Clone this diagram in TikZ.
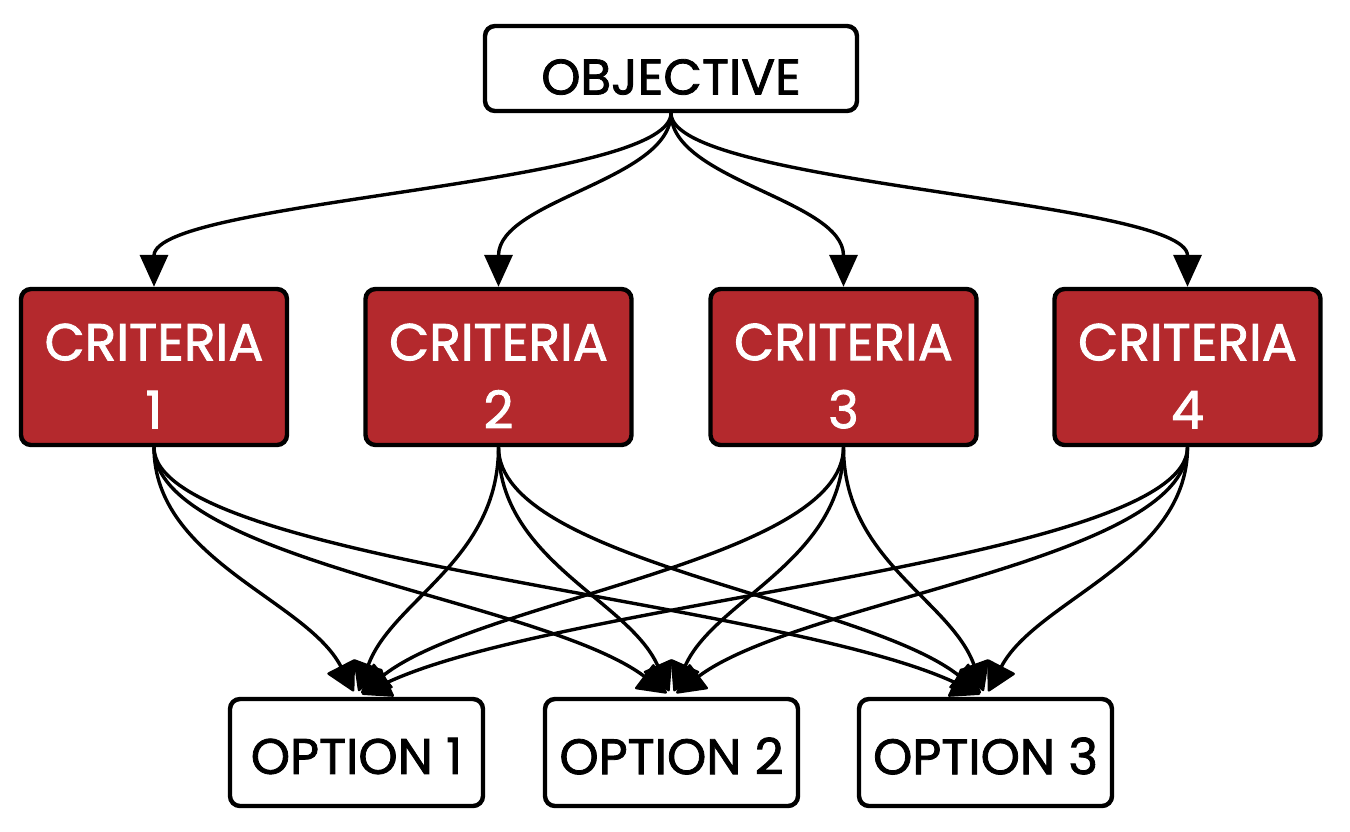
\documentclass[tikz,border=0pt]{standalone}
\usepackage{fontspec}
\setmainfont{Poppins}[FakeBold=1.6]
\usetikzlibrary{arrows.meta}
\definecolor{critred}{HTML}{B4292D}
\begin{document}
\begin{tikzpicture}[x=0.5pt,y=-0.5pt,
  box/.style={draw=black, line width=2.2pt, rounded corners=5pt, inner sep=0pt},
  objbox/.style={box, fill=white, minimum width=186pt, minimum height=42.5pt},
  critbox/.style={box, fill=critred, minimum width=133pt, minimum height=78pt},
  optbox/.style={box, fill=white, minimum width=126.5pt, minimum height=53.5pt},
  lbl/.style={inner sep=0pt, font=\fontsize{25}{34}\selectfont, align=center},
  critlbl/.style={lbl, text=white, font=\fontsize{26}{34}\selectfont},
  conn/.style={draw=black, line width=1.7pt, -{Triangle[length=16pt,width=14pt]}},
  conn2/.style={draw=black, line width=1.7pt,
    -{Triangle[length=15pt,width=16pt,line width=1.2pt,fill=black,line join=round]}, shorten >=3pt}
]
\useasboundingbox (0,0) rectangle (1350,831);
% boxes
\node[objbox] (obj) at (671,68.5) {};
\node[critbox] (c1) at (154,367) {};
\node[critbox] (c2) at (498.5,367) {};
\node[critbox] (c3) at (843.5,367) {};
\node[critbox] (c4) at (1187.5,367) {};
\node[optbox] (o1) at (356.5,752.5) {};
\node[optbox] (o2) at (671.5,752.5) {};
\node[optbox] (o3) at (985.5,752.5) {};
% labels
\node[lbl] (objt) at (671,77) {OBJECTIVE};
\node[critlbl] (c1t) at (154,376) {CRITERIA\\1};
\node[critlbl] (c2t) at (498.5,376) {CRITERIA\\2};
\node[critlbl] (c3t) at (843.5,376) {CRITERIA\\3};
\node[critlbl] (c4t) at (1187.5,376) {CRITERIA\\4};
\node[lbl] (o1t) at (356.5,756) {OPTION 1};
\node[lbl] (o2t) at (671.5,756) {OPTION 2};
\node[lbl] (o3t) at (985.5,756) {OPTION 3};
% objective to criteria
\draw[conn] (obj.south) .. controls +(0,72) and +(0,-87) .. (c1.north);
\draw[conn] (obj.south) .. controls +(0,67) and +(0,-87) .. (c2.north);
\draw[conn] (obj.south) .. controls +(0,67) and +(0,-87) .. (c3.north);
\draw[conn] (obj.south) .. controls +(0,72) and +(0,-87) .. (c4.north);
% criteria to options
\draw[conn2] (c1.south) .. controls +(0,113) and +(-50,-97) .. (o1.north);
\draw[conn2] (c1.south) .. controls +(0,113) and +(-129,-97) .. (o2.north);
\draw[conn2] (c1.south) .. controls +(0,113) and +(-208,-97) .. (o3.north);
\draw[conn2] (c2.south) .. controls +(0,113) and +(36,-97) .. (o1.north);
\draw[conn2] (c2.south) .. controls +(0,113) and +(-43,-97) .. (o2.north);
\draw[conn2] (c2.south) .. controls +(0,113) and +(-122,-97) .. (o3.north);
\draw[conn2] (c3.south) .. controls +(0,113) and +(122,-97) .. (o1.north);
\draw[conn2] (c3.south) .. controls +(0,113) and +(43,-97) .. (o2.north);
\draw[conn2] (c3.south) .. controls +(0,113) and +(-35,-97) .. (o3.north);
\draw[conn2] (c4.south) .. controls +(0,113) and +(208,-97) .. (o1.north);
\draw[conn2] (c4.south) .. controls +(0,113) and +(129,-97) .. (o2.north);
\draw[conn2] (c4.south) .. controls +(0,113) and +(51,-97) .. (o3.north);
\end{tikzpicture}
\end{document}
